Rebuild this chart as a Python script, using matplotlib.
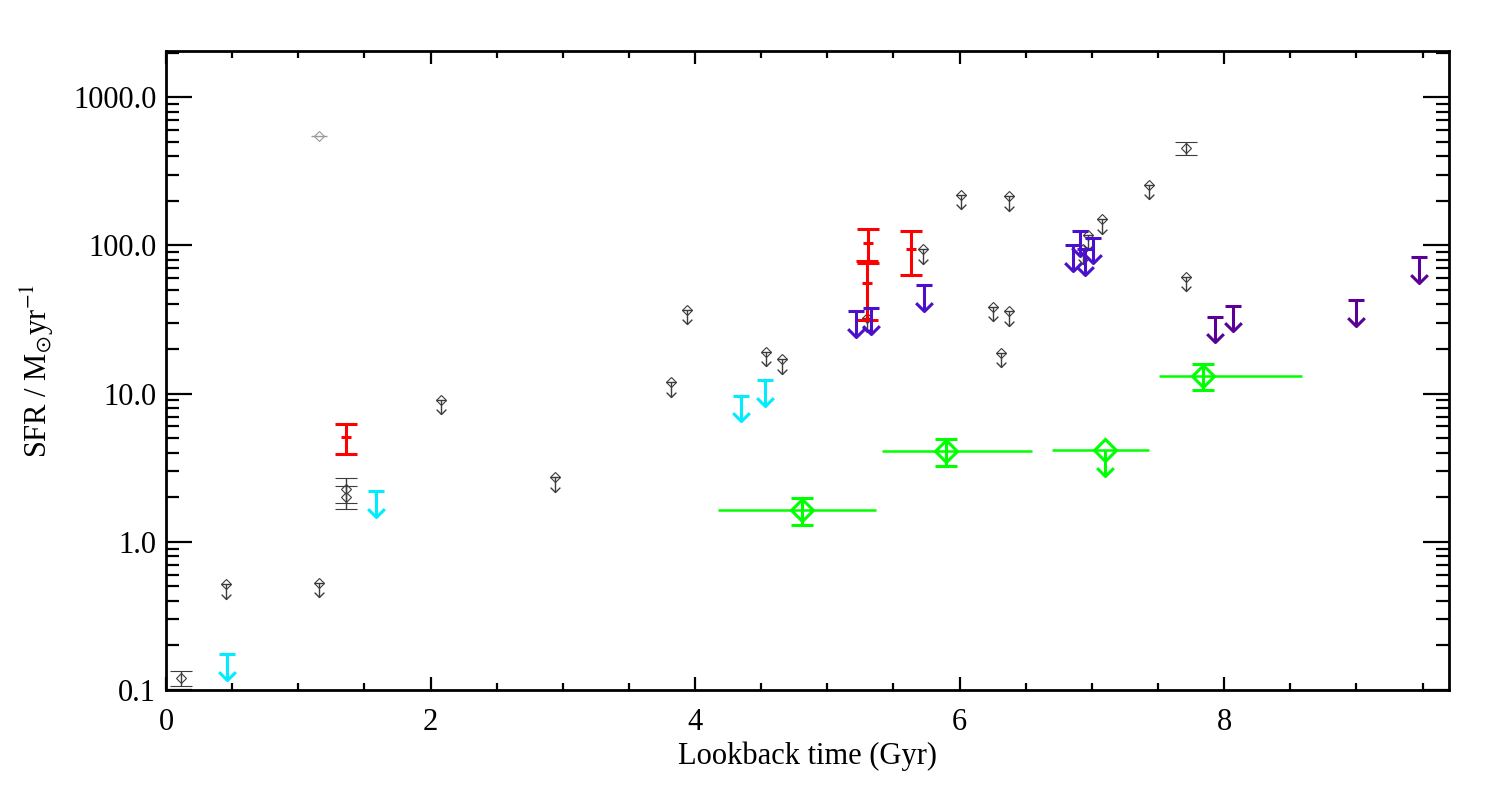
import numpy as np
import matplotlib
matplotlib.use("Agg")
import matplotlib.pyplot as plt
from matplotlib.path import Path

# ---------------- data ----------------
# grey literature upper limits (diamond + arrow)
grey_ul_x = [0.45, 1.16, 2.08, 2.94, 3.82, 3.94, 4.54, 4.66, 5.30, 5.72, 6.01,
             6.25, 6.31, 6.37, 6.37, 6.93, 6.97, 7.08, 7.43, 7.71]
grey_ul_y = [0.52, 0.53, 9.1, 2.75, 11.9, 36.9, 19.2, 17.2, 32.6, 94, 220,
             38.7, 18.9, 35.9, 214, 95, 118, 150, 257, 61.6]

# grey detections with y error bars
grey_x = [0.11, 1.36, 1.36, 7.71]
grey_y = [0.12, 2.28, 2.01, 452]
grey_lo = [0.106, 1.84, 1.67, 405]
grey_hi = [0.135, 2.71, 2.39, 497]

# light grey detection
lgrey_x = [1.16]
lgrey_y = [545]
lgrey_xerr = [0.06]

# red detections (error bars)
red_x = [1.36, 5.31, 5.30, 5.63]
red_y = [5.13, 103, 55.4, 94]
red_lo = [3.93, 75.6, 31.6, 62.9]
red_hi = [6.27, 130, 79, 126]

# cyan upper limits
cyan_x = [0.46, 1.59, 4.35, 4.53]
cyan_y = [0.175, 2.21, 9.7, 12.4]

# blue upper limits
blue_x = [5.22, 5.33, 5.73, 6.86, 6.91, 6.95, 7.01]
blue_y = [35.9, 38.0, 53.9, 100, 126, 94, 113]

# purple upper limits
purple_x = [7.93, 8.07, 9.00, 9.47]
purple_y = [33.1, 39.3, 42.5, 84]

# green stacked points (x range, y error)
green_x = [4.81, 5.90, 7.84]
green_xlo = [4.17, 5.41, 7.51]
green_xhi = [5.37, 6.55, 8.59]
green_y = [1.645, 4.12, 13.2]
green_lo = [1.30, 3.26, 10.5]
green_hi = [1.98, 4.97, 15.9]

# green upper limit
green_ul_x = [7.10]
green_ul_xlo = [6.70]
green_ul_xhi = [7.43]
green_ul_y = [4.19]

xticks = [0, 2, 4, 6, 8]
yticks = [0.1, 1.0, 10.0, 100.0, 1000.0]
ytick_labels = ["0.1", "1.0", "10.0", "100.0", "1000.0"]

# ---------------- style ----------------
plt.rcParams['font.family'] = ['Liberation Serif', 'DejaVu Serif']
plt.rcParams['mathtext.fontset'] = 'stix'

GREY = '#3c3c3c'
LGREY = '#9a9a9a'
RED = '#ff0000'
CYAN = '#00ecff'
BLUE = '#4a10cc'
PURPLE = '#5a0096'
GREEN = '#00ff00'

chevron = Path([(-1, 1), (0, 0), (1, 1)], [Path.MOVETO, Path.LINETO, Path.LINETO])

fig = plt.figure(figsize=(14.95, 7.97), dpi=100)
ax = fig.add_axes([166/1495, 1-690/797, (1449-166)/1495, (690-51)/797])
ax.set_yscale('log')
ax.set_xlim(0, 9.7)
ax.set_ylim(0.1, 2050)


def upper_limits(xs, ys, color, lw, cap_ms, head_ms, dec, zorder=3):
    xs = np.asarray(xs, float)
    ys = np.asarray(ys, float)
    tips = ys * 10 ** (-dec)
    for x, y, t in zip(xs, ys, tips):
        ax.plot([x, x], [y, t], color=color, lw=lw, solid_capstyle='butt', zorder=zorder)
    if cap_ms:
        ax.plot(xs, ys, ls='none', marker='_', ms=cap_ms, mew=lw, color=color, zorder=zorder)
    ax.plot(xs, tips, ls='none', marker=chevron, ms=head_ms, mew=lw, mfc='none',
            mec=color, zorder=zorder)


# grey upper limits
upper_limits(grey_ul_x, grey_ul_y, GREY, 1.0, 7, 7, 0.10)
ax.plot(grey_ul_x, grey_ul_y, ls='none', marker='D', ms=5, mew=0.8, mfc='none', mec=GREY, zorder=3)

# grey detections
gy = np.array(grey_y)
ax.errorbar(grey_x, gy, yerr=[gy - np.array(grey_lo), np.array(grey_hi) - gy],
            fmt='D', ms=5, mew=0.8, mfc='none', mec=GREY, ecolor=GREY, elinewidth=1.0,
            capsize=8, capthick=1.0, zorder=3)

# light grey
ax.errorbar(lgrey_x, lgrey_y, xerr=lgrey_xerr, fmt='D', ms=5, mew=0.8, mfc='none',
            mec=LGREY, ecolor=LGREY, elinewidth=1.0, capsize=0, zorder=3)

# red
ry = np.array(red_y)
ax.errorbar(red_x, ry, yerr=[ry - np.array(red_lo), np.array(red_hi) - ry],
            fmt='_', ms=7, mew=2.2, color=RED, ecolor=RED, elinewidth=2.2,
            capsize=8, capthick=2.2, zorder=4)

# cyan, blue, purple upper limits
upper_limits(cyan_x, cyan_y, CYAN, 2.2, 12, 12, 0.175, zorder=4)
upper_limits(blue_x, blue_y, BLUE, 2.2, 12, 12, 0.175, zorder=4)
upper_limits(purple_x, purple_y, PURPLE, 2.2, 12, 12, 0.175, zorder=4)

# green
gx = np.array(green_x)
gyy = np.array(green_y)
ax.errorbar(gx, gyy, xerr=[gx - np.array(green_xlo), np.array(green_xhi) - gx],
            fmt='none', ecolor=GREEN, elinewidth=1.8, capsize=0, zorder=5)
ax.errorbar(gx, gyy, yerr=[gyy - np.array(green_lo), np.array(green_hi) - gyy],
            fmt='D', ms=11.5, mew=2.2, mfc='none', mec=GREEN, ecolor=GREEN,
            elinewidth=2.2, capsize=8, capthick=2.2, zorder=5)

gux = np.array(green_ul_x)
ax.errorbar(gux, green_ul_y, xerr=[gux - np.array(green_ul_xlo), np.array(green_ul_xhi) - gux],
            fmt='none', ecolor=GREEN, elinewidth=1.8, capsize=0, zorder=5)
upper_limits(green_ul_x, green_ul_y, GREEN, 2.2, 0, 12, 0.175, zorder=5)
ax.plot(green_ul_x, green_ul_y, ls='none', marker='D', ms=11.5, mew=2.2, mfc='none', mec=GREEN, zorder=5)

# axes styling
for s in ax.spines.values():
    s.set_linewidth(2.0)
ax.set_xticks(xticks)
ax.set_xticklabels([str(t) for t in xticks])
ax.set_xticks(np.arange(0, 9.7, 0.5), minor=True)
ax.set_yticks(yticks)
ax.set_yticklabels(ytick_labels)
ax.tick_params(axis='both', which='both', direction='in', top=True, right=True,
               labelsize=22, width=1.6)
ax.tick_params(axis='x', which='major', length=9.5, pad=13)
ax.tick_params(axis='x', which='minor', length=4.7)
ax.tick_params(axis='y', which='major', length=18.7, pad=7)
ax.tick_params(axis='y', which='minor', length=9.4)

ax.set_xlabel('Lookback time (Gyr)', fontsize=22, labelpad=3)
ax.set_ylabel(r'SFR / M$_{\odot}$yr$^{-1}$', fontsize=22, labelpad=12)

fig.savefig('out.png', dpi=100)
